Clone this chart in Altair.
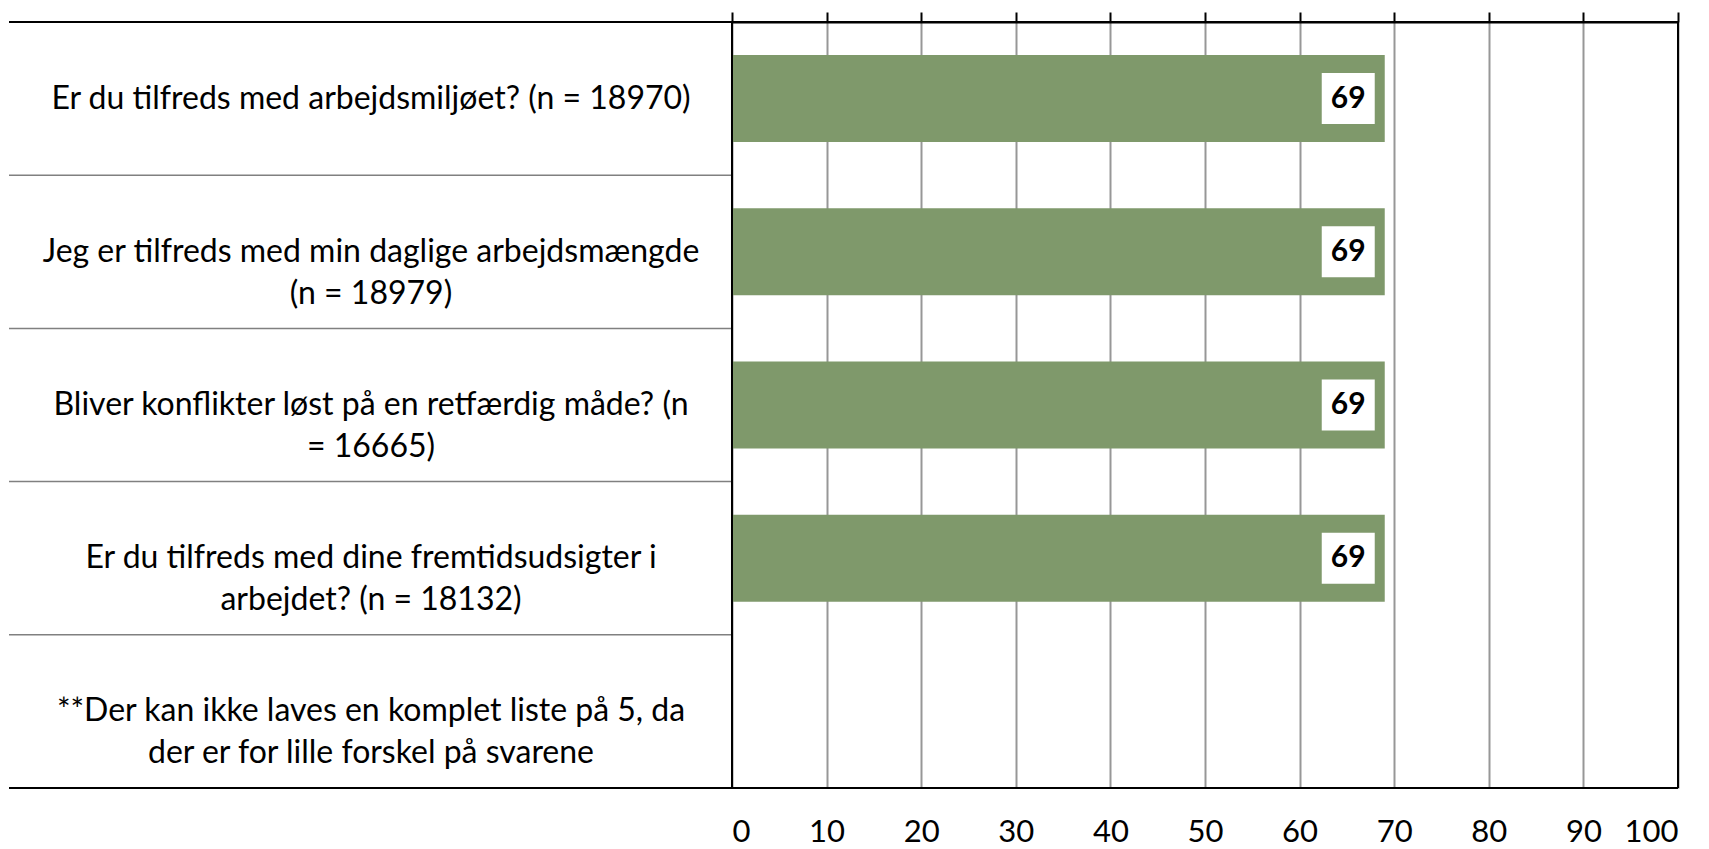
import altair as alt
import pandas as pd

categories = [
    "Er du tilfreds med arbejdsmiljøet? (n = 18970)",
    "Jeg er tilfreds med min daglige arbejdsmængde\n(n = 18979)",
    "Bliver konflikter løst på en retfærdig måde? (n\n= 16665)",
    "Er du tilfreds med dine fremtidsudsigter i\narbejdet? (n = 18132)",
    "**Der kan ikke laves en komplet liste på 5, da\nder er for lille forskel på svarene",
]
values = [69, 69, 69, 69, None]
x_ticks = [0, 10, 20, 30, 40, 50, 60, 70, 80, 90, 100]

df = pd.DataFrame({"cat": categories, "value": values})
bars_df = df.dropna()
sep_df = df.iloc[1:]

FONT = "Lato"
W, H = 946, 766
LEFT = 723

xscale = alt.Scale(domain=[0, 100], nice=False, zero=True)
yscale = alt.Scale(domain=categories, paddingInner=0, paddingOuter=0)


def yenc(**kw):
    return alt.Y("cat:N", sort=None, scale=yscale, axis=None, title=None, **kw)


bars = alt.Chart(bars_df).mark_bar(color="#7f996b", height={"band": 0.568}).encode(
    x=alt.X(
        "value:Q",
        scale=xscale,
        title=None,
        axis=alt.Axis(
            orient="top",
            values=x_ticks,
            labels=False,
            domain=True,
            domainColor="black",
            domainWidth=2,
            ticks=True,
            tickSize=10,
            tickColor="black",
            tickWidth=2,
            grid=True,
            gridColor="#979797",
            gridWidth=2,
        ),
    ),
    y=yenc(),
)

boxes = alt.Chart(bars_df).mark_bar(
    color="white", height=51, xOffset=-63, x2Offset=-10
).encode(
    x=alt.X(
        "value:Q",
        scale=xscale,
        title=None,
        axis=alt.Axis(
            orient="bottom",
            values=x_ticks,
            labels=True,
            labelFont=FONT,
            labelFontSize=31,
            labelColor="black",
            labelBaseline="alphabetic",
            labelPadding=53,
            domain=False,
            ticks=False,
            grid=False,
        ),
    ),
    x2="value:Q",
    y=yenc(),
)

value_text = alt.Chart(bars_df).mark_text(
    font=FONT, fontSize=30, fontWeight="bold", color="black",
    align="center", baseline="middle", dx=-36.5,
).encode(
    x=alt.X("value:Q", scale=xscale, axis=None),
    y=yenc(),
    text=alt.Text("value:Q", format="d"),
)

cat_text = alt.Chart(df).mark_text(
    font=FONT, fontSize=32, color="black", align="center",
    baseline="middle", lineBreak="\n", lineHeight=42,
).encode(
    x=alt.value(-361),
    y=yenc(),
    text="cat:N",
)

separators = alt.Chart(sep_df).mark_rule(color="#808080", strokeWidth=1.5).encode(
    x=alt.value(-LEFT), x2=alt.value(0), y=yenc(bandPosition=0)
)

one = alt.Data(values=[{"k": 1}])
top_rule = alt.Chart(one).mark_rule(color="black", strokeWidth=2).encode(
    x=alt.value(-LEFT), x2=alt.value(W), y=alt.value(0)
)
bottom_rule = alt.Chart(one).mark_rule(color="black", strokeWidth=2).encode(
    x=alt.value(-LEFT), x2=alt.value(W), y=alt.value(H)
)
left_rule = alt.Chart(one).mark_rule(color="black", strokeWidth=2).encode(
    x=alt.value(0), y=alt.value(0), y2=alt.value(H)
)
right_rule = alt.Chart(one).mark_rule(color="black", strokeWidth=2).encode(
    x=alt.value(W), y=alt.value(0), y2=alt.value(H)
)

chart = (
    alt.layer(bars, boxes, value_text, cat_text, separators,
              top_rule, bottom_rule, left_rule, right_rule)
    .resolve_axis(x="independent")
    .properties(
        width=W,
        height=H,
        padding={"left": 724, "top": 14, "right": 10, "bottom": 70},
        autosize=alt.AutoSizeParams(type="none"),
    )
    .configure_view(stroke=None)
    .configure(font=FONT)
)

chart.save("out.html", embed_options={"renderer": "svg", "actions": False})
